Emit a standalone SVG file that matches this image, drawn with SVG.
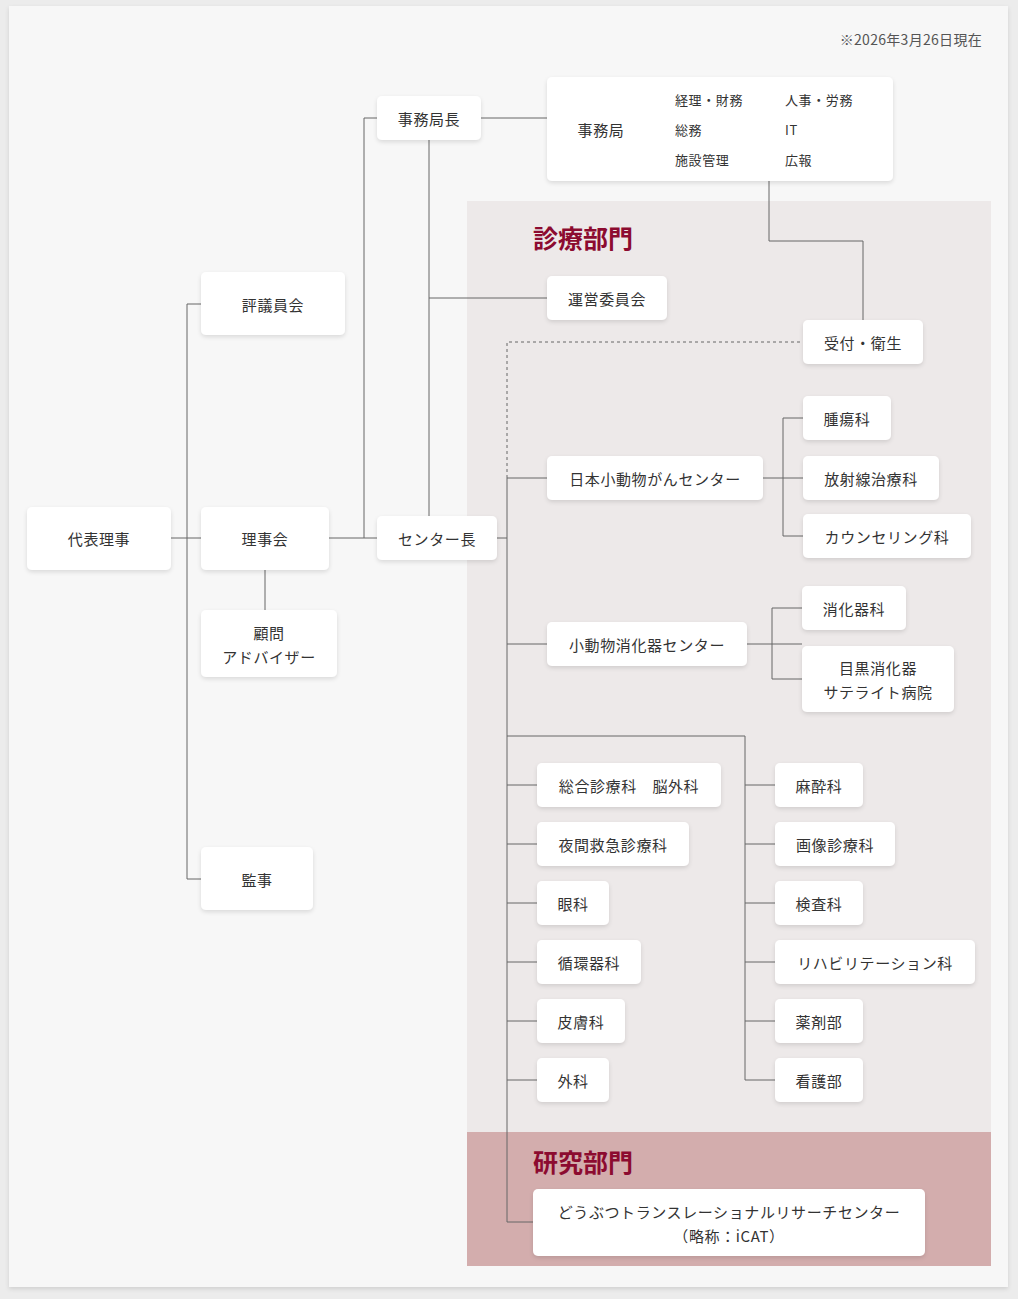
<svg xmlns="http://www.w3.org/2000/svg" width="1018" height="1299" viewBox="0 0 1018 1299">
<defs>
<filter id="sh" x="-20%" y="-20%" width="140%" height="150%"><feDropShadow dx="0" dy="2" stdDeviation="2" flood-color="#000" flood-opacity="0.12"/></filter>
<style>
text{font-family:"Noto Sans CJK JP","Noto Sans",sans-serif;fill:#333;font-size:15px;letter-spacing:0.6px}
.n rect{fill:#fff;filter:url(#sh)}
.t{text-anchor:middle;dominant-baseline:central}
.s{font-size:13px}
.h{font-size:25px;font-weight:bold;fill:#8c0b30;letter-spacing:0}
#conn path{fill:none;stroke:#666;stroke-width:1}
</style>
</defs>
<rect x="0" y="0" width="1018" height="1299" fill="#ececec"/>
<rect x="9" y="6" width="999" height="1281" fill="#f7f7f7" filter="url(#sh)"/>
<rect x="467" y="201" width="524" height="931" fill="#ede9e9"/>
<rect x="467" y="1132" width="524" height="134" fill="#d3adad"/>
<text x="982" y="45" text-anchor="end" style="font-size:14px;fill:#555;letter-spacing:0.3px">※2026年3月26日現在</text>
<text x="533" y="248" class="h">診療部門</text>
<text x="533" y="1172" class="h">研究部門</text>
<g id="conn">
<path d="M171 538H201M187 304V879M187 304H201M187 879H201M265 570V610M329 538H377M364 538V118H377M481 118H547M429 140V516M429 298H547M769 181V241H863V320M497 538H507M507 478V1222H533M507 478H547M507 644H547M507 785H537M507 844H537M507 903H537M507 962H537M507 1021H537M507 1080H537M507 736H745V1080M745 785H775M745 844H775M745 903H775M745 962H775M745 1021H775M745 1080H775M763 478H803M783 418V536M783 418H803M783 536H803M747 644H802M772 608V679M772 608H802M772 679H802"/>
<path d="M507 478V342H803" stroke-dasharray="3 3"/>
</g>
<g id="n1" class="n"><rect x="27" y="507" width="144" height="63" rx="5"/><text x="99" y="538" class="t">代表理事</text></g>
<g id="n2" class="n"><rect x="201" y="272" width="144" height="63" rx="5"/><text x="273" y="304" class="t">評議員会</text></g>
<g id="n3" class="n"><rect x="201" y="507" width="128" height="63" rx="5"/><text x="265" y="538" class="t">理事会</text></g>
<g id="n4" class="n"><rect x="201" y="610" width="136" height="67" rx="5"/><text x="269" y="632" class="t">顧問</text><text x="269" y="656" class="t">アドバイザー</text></g>
<g id="n5" class="n"><rect x="201" y="847" width="112" height="63" rx="5"/><text x="257" y="879" class="t">監事</text></g>
<g id="n6" class="n"><rect x="377" y="96" width="104" height="44" rx="5"/><text x="429" y="118" class="t">事務局長</text></g>
<g id="n7" class="n"><rect x="377" y="516" width="120" height="44" rx="5"/><text x="437" y="538" class="t">センター長</text></g>
<g id="n8" class="n"><rect x="547" y="77" width="346" height="104" rx="5"/><text x="601" y="129" class="t">事務局</text>
<text x="675" y="99" class="s" dominant-baseline="central">経理・財務</text><text x="785" y="99" class="s" dominant-baseline="central">人事・労務</text>
<text x="675" y="129" class="s" dominant-baseline="central">総務</text><text x="785" y="129" class="s" dominant-baseline="central">IT</text>
<text x="675" y="159" class="s" dominant-baseline="central">施設管理</text><text x="785" y="159" class="s" dominant-baseline="central">広報</text></g>
<g id="n9" class="n"><rect x="547" y="276" width="120" height="44" rx="5"/><text x="607" y="298" class="t">運営委員会</text></g>
<g id="n10" class="n"><rect x="803" y="320" width="120" height="44" rx="5"/><text x="863" y="342" class="t">受付・衛生</text></g>
<g id="n11" class="n"><rect x="547" y="456" width="216" height="44" rx="5"/><text x="655" y="478" class="t">日本小動物がんセンター</text></g>
<g id="n12" class="n"><rect x="803" y="396" width="88" height="44" rx="5"/><text x="847" y="418" class="t">腫瘍科</text></g>
<g id="n13" class="n"><rect x="803" y="456" width="136" height="44" rx="5"/><text x="871" y="478" class="t">放射線治療科</text></g>
<g id="n14" class="n"><rect x="803" y="514" width="168" height="44" rx="5"/><text x="887" y="536" class="t">カウンセリング科</text></g>
<g id="n15" class="n"><rect x="547" y="622" width="200" height="44" rx="5"/><text x="647" y="644" class="t">小動物消化器センター</text></g>
<g id="n16" class="n"><rect x="802" y="586" width="104" height="44" rx="5"/><text x="854" y="608" class="t">消化器科</text></g>
<g id="n17" class="n"><rect x="802" y="646" width="152" height="66" rx="5"/><text x="878" y="667" class="t">目黒消化器</text><text x="878" y="691" class="t">サテライト病院</text></g>
<g id="n18" class="n"><rect x="537" y="763" width="184" height="44" rx="5"/><text x="629" y="785" class="t">総合診療科　脳外科</text></g>
<g id="n19" class="n"><rect x="537" y="822" width="152" height="44" rx="5"/><text x="613" y="844" class="t">夜間救急診療科</text></g>
<g id="n20" class="n"><rect x="537" y="881" width="72" height="44" rx="5"/><text x="573" y="903" class="t">眼科</text></g>
<g id="n21" class="n"><rect x="537" y="940" width="104" height="44" rx="5"/><text x="589" y="962" class="t">循環器科</text></g>
<g id="n22" class="n"><rect x="537" y="999" width="88" height="44" rx="5"/><text x="581" y="1021" class="t">皮膚科</text></g>
<g id="n23" class="n"><rect x="537" y="1058" width="72" height="44" rx="5"/><text x="573" y="1080" class="t">外科</text></g>
<g id="n24" class="n"><rect x="775" y="763" width="88" height="44" rx="5"/><text x="819" y="785" class="t">麻酔科</text></g>
<g id="n25" class="n"><rect x="775" y="822" width="120" height="44" rx="5"/><text x="835" y="844" class="t">画像診療科</text></g>
<g id="n26" class="n"><rect x="775" y="881" width="88" height="44" rx="5"/><text x="819" y="903" class="t">検査科</text></g>
<g id="n27" class="n"><rect x="775" y="940" width="200" height="44" rx="5"/><text x="875" y="962" class="t">リハビリテーション科</text></g>
<g id="n28" class="n"><rect x="775" y="999" width="88" height="44" rx="5"/><text x="819" y="1021" class="t">薬剤部</text></g>
<g id="n29" class="n"><rect x="775" y="1058" width="88" height="44" rx="5"/><text x="819" y="1080" class="t">看護部</text></g>
<g id="n30" class="n"><rect x="533" y="1189" width="392" height="67" rx="5"/><text x="729" y="1211" class="t">どうぶつトランスレーショナルリサーチセンター</text><text x="729" y="1235" class="t">（略称：iCAT）</text></g>
</svg>
